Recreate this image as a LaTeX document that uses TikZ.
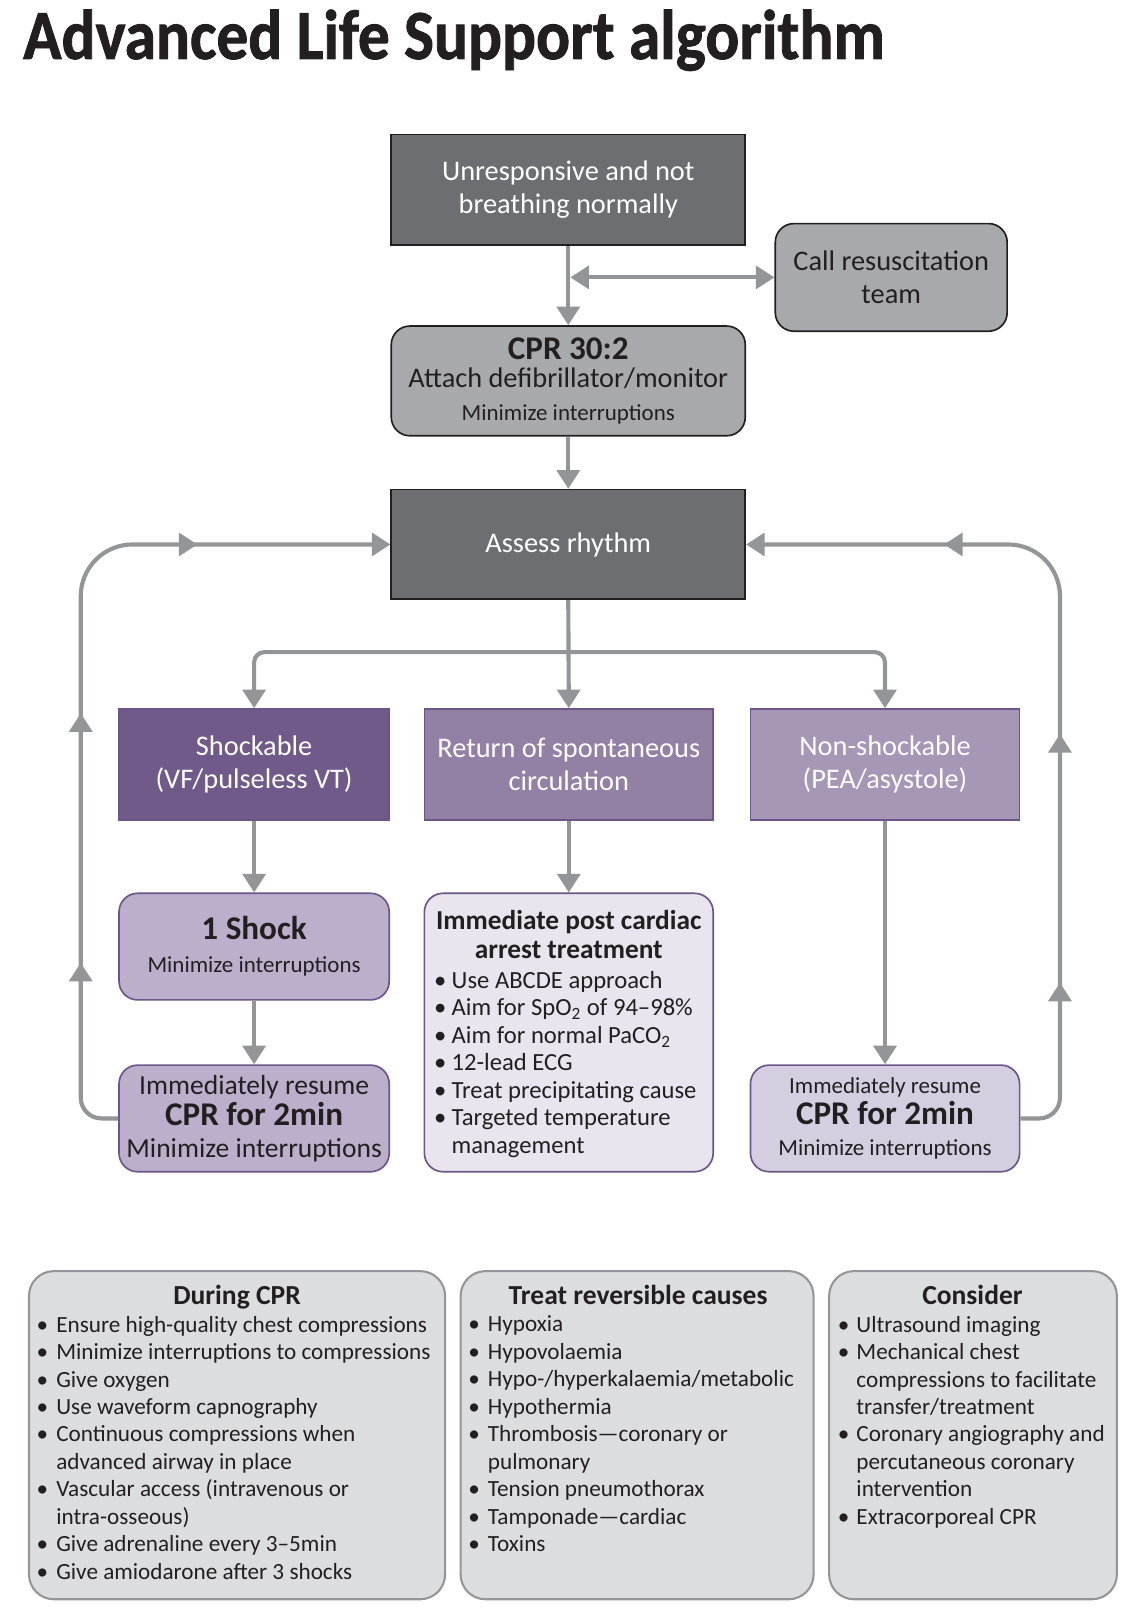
\documentclass[tikz,border=0pt]{standalone}
\usepackage{fontspec}
\setmainfont{Carlito}
\newfontfamily\titlefont[FakeStretch=0.9,FakeBold=1.2]{Carlito}
\usetikzlibrary{arrows.meta,decorations.markings}
\definecolor{ink}{HTML}{231F20}
\definecolor{darkfill}{HTML}{6D6E71}
\definecolor{midfill}{HTML}{A7A9AC}
\definecolor{pborder}{HTML}{6B5589}
\definecolor{shockfill}{HTML}{6F5A8A}
\definecolor{roscfill}{HTML}{9381A5}
\definecolor{nonfill}{HTML}{A697B6}
\definecolor{onefill}{HTML}{BCAFCC}
\definecolor{postfill}{HTML}{E9E4ED}
\definecolor{resRfill}{HTML}{D5CEE0}
\definecolor{boxgray}{HTML}{DCDDDE}
\definecolor{boxborder}{HTML}{939598}
\definecolor{arrowc}{HTML}{939598}
\newcommand{\fmain}{\fontsize{13.7}{16}\selectfont}
\newcommand{\fsmall}{\fontsize{11.1}{13}\selectfont}
\newcommand{\fbig}{\bfseries\fontsize{16}{18}\selectfont}
\newcommand{\Bul}[1]{\makebox[#1][l]{\textbullet}}
\newcommand{\Ind}[1]{\hspace*{#1}}
\tikzset{
  tipA/.tip={Triangle[length=9pt,width=11pt]},
  box/.style={draw=ink, line width=0.8pt, inner sep=0pt, align=center, text=ink, font=\fmain},
  darkbox/.style={box, fill=darkfill, text=white},
  midbox/.style={box, fill=midfill, rounded corners=9pt},
  pbox/.style={draw=pborder, line width=0.8pt, inner sep=0pt, align=center, text=ink, font=\fmain},
  gbox/.style={draw=boxborder, fill=boxgray, line width=1pt, rounded corners=12pt, inner sep=0pt},
  lst/.style={anchor=north west, inner sep=0pt, align=left, text=ink, font=\fontsize{11.2}{13.25}\selectfont},
  hd/.style={anchor=north, inner sep=0pt, align=center, text=ink, font=\bfseries\fontsize{13.3}{14}\selectfont},
  arr/.style={draw=arrowc, color=arrowc, line width=2pt, -tipA},
}
\begin{document}
\begin{tikzpicture}[x=0.5pt,y=-0.5pt]
\useasboundingbox (0,0) rectangle (1103,1567);
% title
\node[anchor=base west, inner sep=0pt, text=ink, font=\titlefont\bfseries\fontsize{34}{40}\selectfont] (title) at (22,57) {Advanced Life Support algorithm};
% top flow
\node[darkbox, minimum width=171pt, minimum height=53.5pt] (unresp) at (549,183.5) {Unresponsive and not\\breathing normally};
\node[midbox, minimum width=112pt, minimum height=52pt] (call) at (861,268) {Call resuscitation\\team};
\node[midbox, minimum width=171pt, minimum height=53pt] (cpr) at (549,368) {{\fbig CPR 30:2}\\[-2.5pt]Attach defibrillator/monitor\\{\fsmall Minimize interruptions}};
\node[darkbox, minimum width=171pt, minimum height=53pt] (assess) at (549,526) {Assess rhythm};
% rhythm boxes
\node[pbox, fill=shockfill, text=white, minimum width=130.5pt, minimum height=53.5pt] (shock) at (245.5,738.5) {Shockable\\(VF/pulseless VT)};
\node[pbox, fill=roscfill, text=white, minimum width=139.5pt, minimum height=53.5pt] (rosc) at (549.5,738.5) {Return of spontaneous\\circulation};
\node[pbox, fill=nonfill, text=white, minimum width=130pt, minimum height=53.5pt] (nonshock) at (855,738.5) {Non-shockable\\(PEA/asystole)};
% lower boxes
\node[pbox, fill=onefill, rounded corners=9pt, minimum width=130.5pt, minimum height=51.5pt] (oneshock) at (245.5,914.5) {{\fbig 1 Shock}\\[0pt]{\fsmall Minimize interruptions}};
\node[pbox, fill=onefill, rounded corners=9pt, minimum width=130.5pt, minimum height=51.5pt, font=\fontsize{13.3}{15.2}\selectfont] (resumeL) at (245.5,1080.5) {Immediately resume\\{\fbig CPR for 2min}\\Minimize interruptions};
\node[pbox, fill=postfill, rounded corners=9pt, minimum width=139.5pt, minimum height=134.5pt] (post) at (549.5,997.5) {};
\node[hd, font=\bfseries\fontsize{13.2}{14}\selectfont] (postH) at (549.5,879) {Immediate post cardiac\\arrest treatment};
\node[lst, font=\fontsize{11.9}{13.25}\selectfont] (postL) at (419,938) {\Bul{8.5pt}Use ABCDE approach\\
\Bul{8.5pt}Aim for SpO\textsubscript{2} of 94–98\%\\
\Bul{8.5pt}Aim for normal PaCO\textsubscript{2}\\
\Bul{8.5pt}12-lead ECG\\
\Bul{8.5pt}Treat precipitating cause\\
\Bul{8.5pt}Targeted temperature\\
\Ind{8.5pt}management};
\node[pbox, fill=resRfill, rounded corners=9pt, minimum width=130pt, minimum height=51.5pt, font=\fsmall] (resumeR) at (855,1080.5) {Immediately resume\\[1pt]{\fbig CPR for 2min}\\[2pt]Minimize interruptions};
% bottom boxes
\node[gbox, minimum width=201pt, minimum height=158.5pt] (during) at (229,1386.5) {};
\node[gbox, minimum width=170.5pt, minimum height=158.5pt] (treat) at (615.5,1386.5) {};
\node[gbox, minimum width=139pt, minimum height=158.5pt] (consider) at (940,1386.5) {};
\node[hd] (duringH) at (229,1241) {During CPR};
\node[hd] (treatH) at (616.5,1241) {Treat reversible causes};
\node[hd] (considerH) at (939.5,1241) {Consider};
\node[lst] (duringL) at (35,1271) {\Bul{9.5pt}Ensure high-quality chest compressions\\
\Bul{9.5pt}Minimize interruptions to compressions\\
\Bul{9.5pt}Give oxygen\\
\Bul{9.5pt}Use waveform capnography\\
\Bul{9.5pt}Continuous compressions when\\
\Ind{9.5pt}advanced airway in place\\
\Bul{9.5pt}Vascular access (intravenous or\\
\Ind{9.5pt}intra-osseous)\\
\Bul{9.5pt}Give adrenaline every 3–5min\\
\Bul{9.5pt}Give amiodarone after 3 shocks};
\node[lst] (treatL) at (452,1271) {\Bul{9.5pt}Hypoxia\\
\Bul{9.5pt}Hypovolaemia\\
\Bul{9.5pt}Hypo-/hyperkalaemia/metabolic\\
\Bul{9.5pt}Hypothermia\\
\Bul{9.5pt}Thrombosis—coronary or\\
\Ind{9.5pt}pulmonary\\
\Bul{9.5pt}Tension pneumothorax\\
\Bul{9.5pt}Tamponade—cardiac\\
\Bul{9.5pt}Toxins};
\node[lst] (considerL) at (809,1271) {\Bul{9pt}Ultrasound imaging\\
\Bul{9pt}Mechanical chest\\
\Ind{9pt}compressions to facilitate\\
\Ind{9pt}transfer/treatment\\
\Bul{9pt}Coronary angiography and\\
\Ind{9pt}percutaneous coronary\\
\Ind{9pt}intervention\\
\Bul{9pt}Extracorporeal CPR};
% connectors
\coordinate (j1) at (551,268);
\coordinate (jn) at (549,630);
\draw[arr] (unresp.south) -- (cpr.north);
\draw[arr, tipA-tipA] (j1) -- (call.west);
\draw[arr] (cpr.south) -- (assess.north);
\draw[arr] (assess.south) -- (rosc.north);
\draw[arr, rounded corners=5pt] (jn) -| (shock.north);
\draw[arr, rounded corners=5pt] (jn) -| (nonshock.north);
\draw[arr] (shock.south) -- (oneshock.north);
\draw[arr] (oneshock.south) -- (resumeL.north);
\draw[arr] (rosc.south) -- (post.north);
\draw[arr] (nonshock.south) -- (resumeR.north);
\draw[arr, rounded corners=10pt, postaction={decorate}, decoration={markings,
  mark=at position 89pt with {\arrow{tipA}},
  mark=at position 209.5pt with {\arrow{tipA}},
  mark=at position 336.7pt with {\arrow{tipA}}}]
  (resumeL.west) -- (78,1080.5) -- (78,700) [rounded corners=25pt] -- (78,526) -- (assess.west);
\draw[arr, rounded corners=10pt, postaction={decorate}, decoration={markings,
  mark=at position 80.4pt with {\arrow{tipA}},
  mark=at position 200.5pt with {\arrow{tipA}},
  mark=at position 337.3pt with {\arrow{tipA}}}]
  (resumeR.east) -- (1024,1080.5) -- (1024,700) [rounded corners=25pt] -- (1024,526) -- (assess.east);
\end{tikzpicture}
\end{document}
